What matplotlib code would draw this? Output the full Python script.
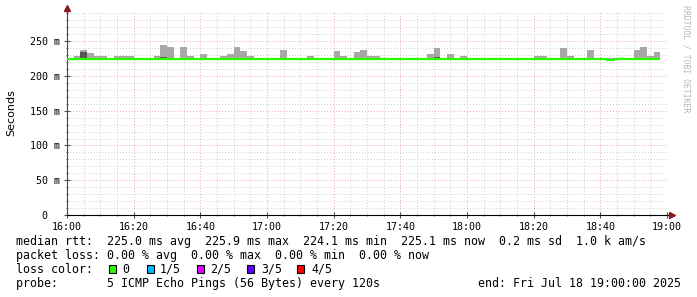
import matplotlib

matplotlib.use("Agg")

import matplotlib.pyplot as plt
from matplotlib.patches import Rectangle
import numpy as np

# minutes after 16:00, one bin every 2 minutes (120 s step)
bin_minutes = 2
n_bins = 89

# smoke: top of the ping spread per bin (ms), bottom fixed just under median
smoke_top = [
    225.5, 228, 238, 232.5, 229, 228, 225.5, 229, 229, 228,
    225.5, 225.5, 225.5, 228, 244, 241, 225.5, 242, 229, 225.5,
    231, 225.5, 225.5, 228, 232, 242, 235.5, 229, 225.5, 225.5,
    225.5, 225.5, 237, 225.5, 225.5, 225.5, 228, 225.5, 225.5, 225.5,
    235.5, 228, 225.5, 234, 238, 228, 229, 225.5, 225.5, 225.5,
    225.5, 225.5, 225.5, 225.5, 231, 240, 225.5, 232, 225.5, 228,
    225.5, 225.5, 225.5, 225.5, 225.5, 225.5, 225.5, 225.5, 225.5, 225.5,
    228, 228, 225.5, 225.5, 240, 228, 225.5, 225.5, 238, 225.5,
    225.5, 225.5, 225.5, 225.5, 225.5, 238, 241, 228, 234,
]
smoke_bottom = 224.0

# darker inner smoke on a few bins
dark_bins = [2, 14, 15, 55]
dark_top = [235, 227, 226.5, 227]

median = [225.0] * n_bins
median[81] = 223.0

y_ticks = [0, 50, 100, 150, 200, 250]
y_tick_labels = ["0  ", "50 m", "100 m", "150 m", "200 m", "250 m"]
x_ticks = [0, 20, 40, 60, 80, 100, 120, 140, 160, 180]
x_tick_labels = ["16:00", "16:20", "16:40", "17:00", "17:20", "17:40",
                 "18:00", "18:20", "18:40", "19:00"]

loss_labels = ["0", "1/5", "2/5", "3/5", "4/5"]
loss_colors = ["#26ff00", "#00b8ff", "#dd00ff", "#5e00ff", "#ff0000"]

legend_lines = [
    "median rtt:  225.0 ms avg  225.9 ms max  224.1 ms min  225.1 ms now  0.2 ms sd  1.0 k am/s",
    "packet loss: 0.00 % avg  0.00 % max  0.00 % min  0.00 % now",
    "loss color:",
    "probe:       5 ICMP Echo Pings (56 Bytes) every 120s",
]
end_text = "end: Fri Jul 18 19:00:00 2025"

W, H = 697, 297
MONO = "DejaVu Sans Mono"


def fx(px):
    return px / W


def fy(py):
    return 1 - py / H


fig = plt.figure(figsize=(W / 100, H / 100), dpi=100)
fig.patch.set_facecolor("white")
ax = fig.add_axes([fx(67), fy(215), (667 - 67) / W, (215 - 12) / H])
ax.set_facecolor("white")

edges = np.arange(n_bins + 1) * bin_minutes
left = edges[:-1]
top = np.array(smoke_top)
ax.bar(left, top - smoke_bottom, bottom=smoke_bottom, width=bin_minutes,
       align="edge", color="#a8a8a8", linewidth=0, zorder=3)
dark_left = left[dark_bins]
ax.bar(dark_left, np.array(dark_top) - smoke_bottom, bottom=smoke_bottom,
       width=bin_minutes, align="edge", color="#555555", linewidth=0, zorder=3)
ax.stairs(median, edges, baseline=None, color="#26ff00", linewidth=1.6, zorder=4)

# grid
dots = (0, (1, 2))
for m in range(5, 180, 5):
    if m % 20:
        ax.axvline(m, color="#cfcfcf", lw=0.7, ls=dots, zorder=1)
for m in range(20, 181, 20):
    ax.axvline(m, color="#e8a8a8", lw=0.7, ls=dots, zorder=1)
for v in range(10, 300, 10):
    if v % 50:
        ax.axhline(v, color="#cfcfcf", lw=0.7, ls=dots, zorder=1)
for v in range(50, 300, 50):
    ax.axhline(v, color="#e8a8a8", lw=0.7, ls=dots, zorder=1)

ax.set_xlim(0, 180)
ax.set_ylim(0, 292)
ax.set_xticks(x_ticks, labels=x_tick_labels)
ax.set_xticks(range(0, 181, 5), minor=True)
ax.set_yticks(y_ticks, labels=y_tick_labels)
ax.set_yticks(range(0, 291, 10), minor=True)
ax.tick_params(axis="both", which="major", direction="inout", length=4,
               width=0.8, color="#555555", labelsize=7.2, pad=3)
ax.tick_params(axis="both", which="minor", direction="inout", length=2,
               width=0.8, color="#777777")
for lab in ax.get_xticklabels() + ax.get_yticklabels():
    lab.set_family(MONO)

for s in ("top", "right"):
    ax.spines[s].set_visible(False)
ax.spines["left"].set_color("#5a4040")
ax.spines["bottom"].set_color("black")
ax.spines["left"].set_bounds(0, 292)

# axis arrows
ax.plot([0, 0], [292, 298], color="#5a4040", lw=0.8, clip_on=False)
ax.plot([0], [298], marker="^", ms=4, color="#8b1a1a", clip_on=False, zorder=6)
ax.plot([180, 181.5], [0, 0], color="black", lw=0.8, clip_on=False)
ax.plot([181.5], [0], marker=">", ms=4, color="#8b1a1a", clip_on=False, zorder=6)

fig.text(fx(11), fy(113), "Seconds", rotation=90, ha="center", va="center",
         fontsize=8, family="DejaVu Sans")
fig.text(fx(686), fy(5), "RRDTOOL / TOBI OETIKER", rotation=270, ha="center",
         va="top", fontsize=5.9, family=MONO, color="#b8b8b8")

rows = [241.3, 255.3, 269.3, 283.5]
for text, py in zip(legend_lines, rows):
    fig.text(fx(16), fy(py), text, ha="left", va="center", fontsize=8.4,
             family=MONO)
fig.text(fx(478), fy(rows[3]), end_text, ha="left", va="center", fontsize=8.4,
         family=MONO)

box_x = [108.7, 146.7, 197.3, 246.7, 297.3]
label_x = [122.5, 159.5, 210.5, 261, 311.5]
for bx, tx, lab, col in zip(box_x, label_x, loss_labels, loss_colors):
    fig.patches.append(Rectangle((fx(bx), fy(273.3)), 7 / W, 8 / H,
                                 transform=fig.transFigure, facecolor=col,
                                 edgecolor="black", linewidth=0.8))
    fig.text(fx(tx), fy(rows[2]), lab, ha="left", va="center",
             fontsize=8.4, family=MONO)

fig.savefig("out.png", dpi=100)
